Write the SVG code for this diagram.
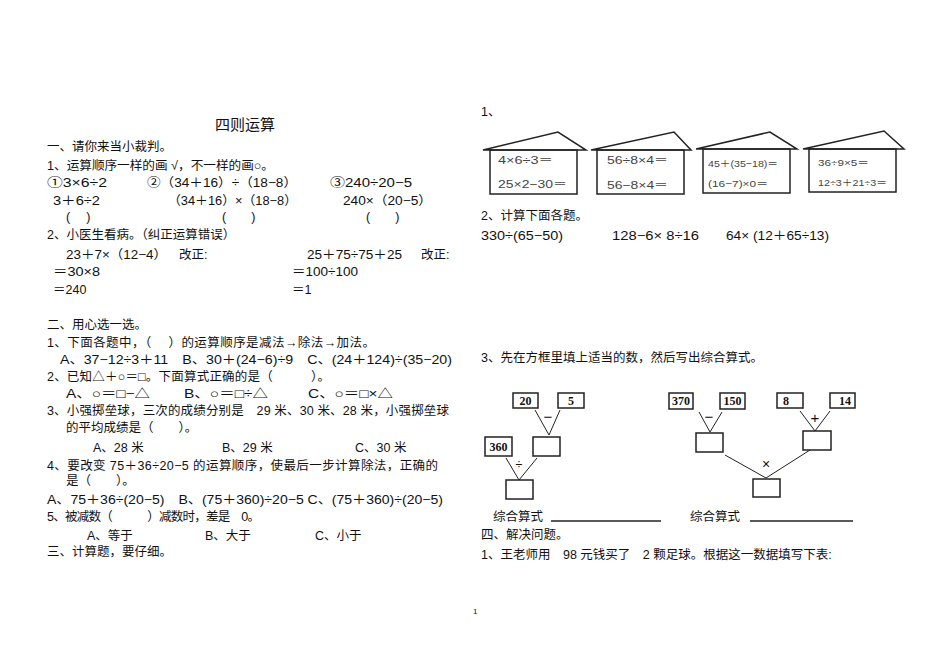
<svg xmlns="http://www.w3.org/2000/svg" width="950" height="672" viewBox="0 0 950 672">
<style>
text{font-family:"Liberation Sans","Noto Sans CJK SC",sans-serif;font-size:12.5px;fill:#111}
.h{font-size:11.5px;fill:#444}
.s{font-size:9.5px;fill:#444}
.n{font-family:"Liberation Serif","Noto Sans CJK SC",serif;font-size:12px;font-weight:bold;text-anchor:middle}
.o{text-anchor:middle}
rect,path,line{fill:none;stroke:#222;stroke-width:1.5}
.t line{stroke-width:1}
</style>
<rect x="0" y="0" width="950" height="672" style="fill:#fff;stroke:none"/>
<text x="215" y="130" style="font-size:15px">四则运算</text>
<text x="47" y="151">一、请你来当小裁判。</text>
<text x="47" y="170" textLength="227" lengthAdjust="spacingAndGlyphs">1、运算顺序一样的画 √，不一样的画○。</text>
<text x="47" y="187" textLength="60" lengthAdjust="spacingAndGlyphs">①3×6÷2</text>
<text x="147" y="187" textLength="150" lengthAdjust="spacingAndGlyphs">②（34＋16）÷（18−8）</text>
<text x="330" y="187" textLength="82" lengthAdjust="spacingAndGlyphs">③240÷20−5</text>
<text x="53" y="205" textLength="47" lengthAdjust="spacingAndGlyphs">3＋6÷2</text>
<text x="168" y="205" textLength="129" lengthAdjust="spacingAndGlyphs">（34＋16）×（18−8）</text>
<text x="343" y="205" textLength="89" lengthAdjust="spacingAndGlyphs">240×（20−5）</text>
<text x="66" y="221">(　 )</text>
<text x="222" y="221">(　　)</text>
<text x="366" y="221">(　　)</text>
<text x="47" y="239">2、小医生看病。（纠正运算错误）</text>
<text x="66" y="259" textLength="101" lengthAdjust="spacingAndGlyphs">23＋7×（12−4）</text>
<text x="179" y="259">改正:</text>
<text x="307" y="259" textLength="95" lengthAdjust="spacingAndGlyphs">25＋75÷75＋25</text>
<text x="421" y="259">改正:</text>
<text x="53" y="276" textLength="47" lengthAdjust="spacingAndGlyphs">＝30×8</text>
<text x="292" y="276" textLength="66" lengthAdjust="spacingAndGlyphs">＝100÷100</text>
<text x="53" y="294">＝240</text>
<text x="292" y="294">＝1</text>
<text x="47" y="329">二、用心选一选。</text>
<text x="47" y="347" textLength="328" lengthAdjust="spacing">1、下面各题中，（　 ）的运算顺序是减法→除法→加法。</text>
<text x="60" y="364" textLength="392" lengthAdjust="spacingAndGlyphs">A、37−12÷3＋11　B、30＋(24−6)÷9　C、(24＋124)÷(35−20)</text>
<text x="47" y="381" textLength="283" lengthAdjust="spacing">2、已知△＋○＝□。下面算式正确的是（　　　）。</text>
<text x="66" y="398" textLength="84" lengthAdjust="spacingAndGlyphs">A、○＝□−△</text>
<text x="184" y="398" textLength="84" lengthAdjust="spacingAndGlyphs">B、○＝□÷△</text>
<text x="308" y="398" textLength="85" lengthAdjust="spacingAndGlyphs">C、○＝□×△</text>
<text x="47" y="415" textLength="402" lengthAdjust="spacing">3、小强掷垒球，三次的成绩分别是　29 米、30 米、28 米，小强掷垒球</text>
<text x="66" y="432">的平均成绩是（　　）。</text>
<text x="93" y="452">A、28 米</text>
<text x="222" y="452">B、29 米</text>
<text x="355" y="452">C、30 米</text>
<text x="47" y="470" textLength="391" lengthAdjust="spacing">4、要改变 75＋36÷20−5 的运算顺序，使最后一步计算除法，正确的</text>
<text x="66" y="485">是（　　）。</text>
<text x="47" y="504" textLength="396" lengthAdjust="spacingAndGlyphs">A、75＋36÷(20−5)　B、(75＋360)÷20−5 C、(75＋360)÷(20−5)</text>
<text x="47" y="521" textLength="213" lengthAdjust="spacing">5、被减数（　　　）减数时，差是　0。</text>
<text x="87" y="540">A、等于</text>
<text x="205" y="540">B、大于</text>
<text x="315" y="540">C、小于</text>
<text x="47" y="556">三、计算题，要仔细。</text>

<text x="481" y="116">1、</text>
<g id="house1"><path d="M483 150 L558 132 L586 150 Z"/><rect x="490" y="150" width="87" height="44"/><text class="h" x="498" y="164" textLength="55" lengthAdjust="spacingAndGlyphs">4×6÷3＝</text><text class="h" x="498" y="188" textLength="69" lengthAdjust="spacingAndGlyphs">25×2−30＝</text></g>
<g id="house2"><path d="M591 150 L674 132 L691 150 Z"/><rect x="597" y="150" width="87" height="44"/><text class="h" x="607" y="164" textLength="61" lengthAdjust="spacingAndGlyphs">56÷8×4＝</text><text class="h" x="607" y="189" textLength="61" lengthAdjust="spacingAndGlyphs">56−8×4＝</text></g>
<g id="house3"><path d="M696 149 L770 132 L797 149 Z"/><rect x="703" y="149" width="87" height="44"/><text class="s" x="708" y="167" textLength="70" lengthAdjust="spacingAndGlyphs">45＋(35−18)＝</text><text class="s" x="708" y="187" textLength="60" lengthAdjust="spacingAndGlyphs">(16−7)×0＝</text></g>
<g id="house4"><path d="M803 149 L884 131 L904 149 Z"/><rect x="809" y="149" width="87" height="43"/><text class="s" x="818" y="166" textLength="51" lengthAdjust="spacingAndGlyphs">36÷9×5＝</text><text class="s" x="818" y="186" textLength="69" lengthAdjust="spacingAndGlyphs">12÷3＋21÷3＝</text></g>
<text x="481" y="220">2、计算下面各题。</text>
<text x="481" y="240" textLength="82" lengthAdjust="spacingAndGlyphs">330÷(65−50)</text>
<text x="612" y="240" textLength="87" lengthAdjust="spacingAndGlyphs">128−6× 8÷16</text>
<text x="726" y="240" textLength="103" lengthAdjust="spacingAndGlyphs">64× (12＋65÷13)</text>
<text x="481" y="362">3、先在方框里填上适当的数，然后写出综合算式。</text>

<g id="tree1-nodes">
<g id="b20"><rect x="513" y="393" width="25" height="15"/><text class="n" x="525.5" y="405">20</text></g>
<g id="b5"><rect x="558" y="393" width="26" height="15"/><text class="n" x="571" y="405">5</text></g>
<g id="b1m"><rect x="533" y="437" width="27" height="19"/></g>
<g id="b360"><rect x="485" y="437" width="27" height="19"/><text class="n" x="498.5" y="451">360</text></g>
<g id="b1r"><rect x="506" y="480" width="27" height="19"/></g>
</g>
<g id="tree2-nodes">
<g id="b370"><rect x="669" y="393" width="24" height="16"/><text class="n" x="681" y="405">370</text></g>
<g id="b150"><rect x="720" y="393" width="25" height="16"/><text class="n" x="732.5" y="405">150</text></g>
<g id="b2l"><rect x="696" y="433" width="27" height="19"/></g>
<g id="b8"><rect x="777" y="393" width="26" height="15"/><text class="n" x="786" y="405">8</text></g>
<g id="b14"><rect x="830" y="393" width="25" height="15"/><text class="n" x="845" y="405">14</text></g>
<g id="b2r"><rect x="803" y="431" width="28" height="19"/></g>
<g id="b2b"><rect x="753" y="479" width="27" height="18"/></g>
</g>
<g id="connectors" class="t">
<line x1="535" y1="410" x2="549" y2="435"/><line x1="560" y1="410" x2="549" y2="435"/>
<line x1="506" y1="458" x2="519" y2="480"/><line x1="537" y1="458" x2="519" y2="480"/>
<line x1="699" y1="412" x2="710" y2="432"/><line x1="722" y1="412" x2="710" y2="432"/>
<line x1="800" y1="411" x2="815" y2="431"/><line x1="830" y1="411" x2="815" y2="431"/>
<line x1="725" y1="455" x2="766" y2="478"/><line x1="810" y1="450" x2="766" y2="478"/>
</g>
<text class="o" x="548" y="422" style="font-size:15px">−</text>
<text class="o" x="519" y="469">÷</text>
<text class="o" x="709" y="422" style="font-size:15px">−</text>
<text class="o" x="815" y="423" style="font-size:15px">+</text>
<text class="o" x="766" y="469" style="font-size:14px">×</text>
<text x="493" y="521">综合算式</text>
<line x1="551" y1="521" x2="661" y2="521" stroke-width="1"/>
<text x="690" y="521">综合算式</text>
<line x1="750" y1="521" x2="853" y2="521" stroke-width="1"/>
<text x="481" y="539">四、解决问题。</text>
<text x="481" y="559">1、王老师用　98 元钱买了　2 颗足球。根据这一数据填写下表:</text>
<text x="473" y="614" style="font-size:8px">1</text>
</svg>
